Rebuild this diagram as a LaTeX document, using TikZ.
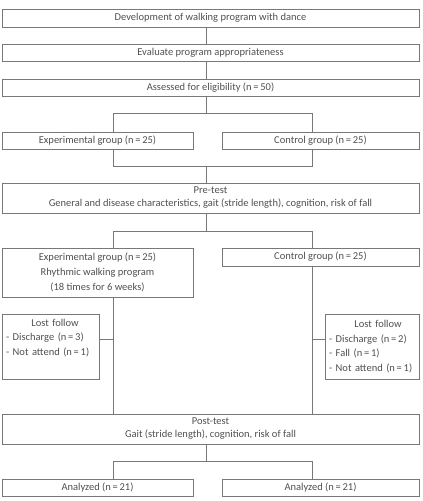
\documentclass[tikz,border=0pt]{standalone}
\usepackage{fontspec}
\setmainfont{Carlito}
\usetikzlibrary{positioning}
\definecolor{linegray}{RGB}{120,120,120}
\definecolor{textgray}{RGB}{80,80,80}

\begin{document}
\begin{tikzpicture}[
			x=1pt, y=-1pt,
			every node/.style={
					font=\fontsize{10.5}{13}\selectfont,
					text=textgray,
					align=center,
					inner sep=0pt
				},
			stepbox/.style={
					draw=linegray,
					line width=1pt
				},
			link/.style={
					draw=linegray,
					line width=1pt
				}
		]

		\useasboundingbox (0,0) rectangle (423,501);

		\coordinate (mid) at (206,0);
		\coordinate (colE) at (113,0);
		\coordinate (colC) at (312,0);

		\node (dev) [stepbox, minimum width=417pt, minimum height=18pt] at (210.5,18)
		{Development of walking program with dance};

		\node (eval) [stepbox, minimum width=417pt, minimum height=17pt] at (210.5,52.5)
		{Evaluate program appropriateness};

		\node (elig) [stepbox, minimum width=417pt, minimum height=17pt] at (210.5,87.5)
		{Assessed for eligibility (n\,=\,50)};

		\node (expA) [stepbox, minimum width=191pt, minimum height=17pt] at (97.5,140.5)
		{Experimental group (n\,=\,25)};

		\node (conA) [stepbox, minimum width=197pt, minimum height=17pt] at (320.5,140.5)
		{Control group (n\,=\,25)};

		\node (pre) [stepbox, minimum width=417pt, minimum height=30pt] at (210.5,198)
		{Pre-test\\General and disease characteristics, gait (stride length), cognition, risk of fall};

		\node (expB) [stepbox, minimum width=191pt, minimum height=49pt,
			font=\fontsize{10.5}{15}\selectfont] at (97.5,272.5)
		{Experimental group (n\,=\,25)\\Rhythmic walking program\\(18 times for 6 weeks)};

		\node (conB) [stepbox, minimum width=197pt, minimum height=18pt] at (320.5,257)
		{Control group (n\,=\,25)};

		\node (lostE) [stepbox, align=left, minimum width=97pt, minimum height=65pt,
			text width=89pt, font=\fontsize{10.5}{14.5}\selectfont] at (50.5,346.5)
		{\makebox[98pt]{Lost follow}\\- Discharge (n\,=\,3)\\- Not attend (n\,=\,1)\\\strut};

		\node (lostC) [stepbox, align=left, minimum width=94pt, minimum height=65pt,
			text width=86pt, font=\fontsize{10.5}{14.5}\selectfont] at (372,346.5)
		{\makebox[98pt]{Lost follow}\\- Discharge (n\,=\,2)\\- Fall (n\,=\,1)\\- Not attend (n\,=\,1)};

		\node (post) [stepbox, minimum width=417pt, minimum height=30pt] at (210.5,429)
		{Post-test\\Gait (stride length), cognition, risk of fall};

		\node (anaE) [stepbox, minimum width=191pt, minimum height=17pt] at (97.5,487.5)
		{Analyzed (n\,=\,21)};

		\node (anaC) [stepbox, minimum width=197pt, minimum height=17pt] at (320.5,487.5)
		{Analyzed (n\,=\,21)};

		\coordinate (s1) at (0,113);
		\coordinate (s2) at (0,166);
		\coordinate (s3) at (0,231);
		\coordinate (s4) at (0,339);
		\coordinate (s5) at (0,461);

		\draw[link] (dev.south -| mid) -- (eval.north -| mid);
		\draw[link] (eval.south -| mid) -- (elig.north -| mid);

		\draw[link] (elig.south -| mid) -- (mid |- s1);
		\draw[link] (expA.north -| colE) -- (colE |- s1) -- (colC |- s1) -- (conA.north -| colC);

		\draw[link] (expA.south -| colE) -- (colE |- s2) -- (colC |- s2) -- (conA.south -| colC);
		\draw[link] (mid |- s2) -- (pre.north -| mid);

		\draw[link] (pre.south -| mid) -- (mid |- s3);
		\draw[link] (expB.north -| colE) -- (colE |- s3) -- (colC |- s3) -- (conB.north -| colC);

		\draw[link] (expB.south -| colE) -- (post.north -| colE);
		\draw[link] (conB.south -| colC) -- (post.north -| colC);
		\draw[link] (lostE.east |- s4) -- (colE |- s4);
		\draw[link] (lostC.west |- s4) -- (colC |- s4);

		\draw[link] (post.south -| mid) -- (mid |- s5);
		\draw[link] (anaE.north -| colE) -- (colE |- s5) -- (colC |- s5) -- (anaC.north -| colC);

	\end{tikzpicture}
\end{document}
